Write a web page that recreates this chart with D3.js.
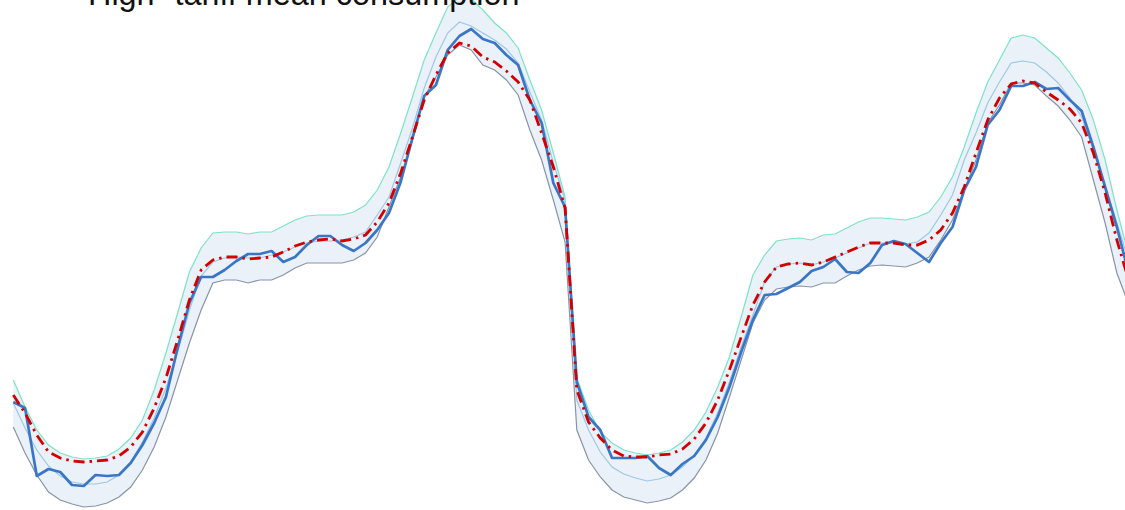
<!DOCTYPE html>
<html>
<head>
<meta charset="utf-8">
<script src="https://cdn.jsdelivr.net/npm/d3@7"></script>
<style>
  body { margin: 0; background: #fff; }
  svg { display: block; }
</style>
</head>
<body>
<div id="chart"></div>
<script>
// half-hour slots over two days
var slots = d3.range(96)

var upperBand = [1.20,0.93,0.70,0.55,0.47,0.43,0.41,0.42,0.44,0.51,0.62,0.80,1.10,1.47,1.87,2.28,2.52,2.67,2.68,2.68,2.66,2.68,2.68,2.74,
  2.80,2.84,2.85,2.85,2.85,2.88,2.95,3.10,3.33,3.67,4.03,4.40,4.67,4.93,5.03,5.01,4.90,4.77,4.67,4.52,4.20,3.90,3.47,3.03,
  1.22,0.90,0.68,0.57,0.50,0.47,0.45,0.47,0.50,0.58,0.70,0.88,1.13,1.43,1.83,2.25,2.45,2.59,2.61,2.62,2.60,2.65,2.66,2.72,
  2.78,2.82,2.82,2.81,2.80,2.83,2.88,3.03,3.23,3.53,3.87,4.18,4.40,4.62,4.65,4.62,4.52,4.42,4.27,4.10,3.80,3.40,2.90,2.45]

var lowerBand = [0.73,0.47,0.25,0.08,0.00,-0.04,-0.07,-0.06,-0.03,0.03,0.13,0.30,0.53,0.83,1.20,1.57,1.90,2.17,2.20,2.20,2.17,2.20,2.20,2.25,
  2.32,2.37,2.37,2.37,2.37,2.40,2.47,2.63,2.93,3.23,3.60,4.03,4.23,4.45,4.55,4.50,4.35,4.30,4.20,4.05,3.70,3.40,3.00,2.58,
  0.70,0.40,0.23,0.10,0.03,0.00,-0.03,-0.01,0.02,0.10,0.22,0.40,0.67,1.03,1.40,1.77,2.00,2.11,2.13,2.14,2.13,2.17,2.17,2.24,
  2.30,2.34,2.35,2.34,2.33,2.37,2.43,2.60,2.80,3.10,3.40,3.77,3.95,4.17,4.17,4.15,4.04,3.94,3.80,3.63,3.20,2.77,2.27,1.96]

var meanProfile = [0.97,0.72,0.50,0.34,0.24,0.18,0.16,0.16,0.18,0.25,0.38,0.58,0.82,1.12,1.48,1.90,2.24,2.38,2.42,2.43,2.42,2.42,2.45,2.48,
  2.53,2.57,2.59,2.59,2.60,2.63,2.68,2.85,3.03,3.37,3.72,4.12,4.43,4.67,4.78,4.74,4.67,4.60,4.51,4.37,4.08,3.80,3.37,3.00,
  1.00,0.70,0.48,0.33,0.26,0.22,0.19,0.21,0.25,0.33,0.45,0.62,0.87,1.18,1.53,1.85,2.18,2.33,2.36,2.37,2.35,2.38,2.42,2.47,
  2.52,2.57,2.57,2.57,2.56,2.58,2.67,2.85,3.05,3.40,3.67,3.97,4.18,4.37,4.39,4.37,4.28,4.17,4.02,3.83,3.50,3.13,2.77,2.40]

var forecast = [1.05,0.87,0.65,0.48,0.42,0.39,0.38,0.39,0.40,0.44,0.53,0.68,0.92,1.22,1.60,2.00,2.30,2.40,2.43,2.43,2.41,2.42,2.43,2.48,
  2.54,2.58,2.60,2.61,2.59,2.61,2.65,2.78,2.97,3.27,3.63,4.00,4.25,4.47,4.57,4.54,4.43,4.38,4.29,4.18,4.00,3.67,3.33,2.92,
  1.10,0.78,0.62,0.50,0.44,0.43,0.43,0.45,0.46,0.51,0.61,0.77,1.00,1.30,1.63,1.95,2.18,2.33,2.36,2.37,2.35,2.38,2.43,2.48,
  2.53,2.57,2.57,2.57,2.55,2.55,2.60,2.70,2.87,3.13,3.47,3.80,4.02,4.16,4.19,4.17,4.08,4.00,3.91,3.77,3.47,3.07,2.60,2.20]

var actual = [0.98,0.92,0.24,0.31,0.28,0.15,0.14,0.25,0.24,0.25,0.37,0.55,0.77,1.03,1.52,1.97,2.23,2.23,2.30,2.39,2.46,2.46,2.49,2.38,
  2.43,2.55,2.64,2.64,2.55,2.49,2.57,2.70,2.87,3.18,3.62,4.04,4.15,4.50,4.64,4.71,4.61,4.57,4.45,4.35,4.00,3.77,3.17,2.93,
  1.18,0.83,0.70,0.42,0.42,0.42,0.44,0.32,0.25,0.36,0.44,0.60,0.83,1.13,1.48,1.80,2.05,2.06,2.12,2.18,2.29,2.33,2.41,2.28,
  2.27,2.37,2.55,2.59,2.56,2.47,2.38,2.57,2.73,3.10,3.33,3.75,3.90,4.14,4.14,4.18,4.11,4.12,4.00,3.89,3.53,3.13,2.73,2.27]

var title = "High- tariff mean consumption"

var svgWidth = 1125
var svgHeight = 510

var svg = d3.select("#chart").append("svg")
    .attr("width", svgWidth)
    .attr("height", svgHeight)

var xScale = d3.scaleLinear().domain([0, 95]).range([13.3, 1128.6])
var yScale = d3.scaleLinear().domain([0, 5]).range([500, 0])

var band = d3.area()
    .x((d, i) => xScale(slots[i]))
    .y0((d, i) => yScale(lowerBand[i]))
    .y1((d, i) => yScale(upperBand[i]))

var line = function(values) {
    return d3.line()
        .x((d, i) => xScale(slots[i]))
        .y(d => yScale(d))(values)
}

svg.append("path")
    .attr("d", band(slots))
    .attr("fill", "#eaf1f8")

svg.append("path")
    .attr("d", line(upperBand))
    .attr("fill", "none")
    .attr("stroke", "#7ce3c6")
    .attr("stroke-width", 1.2)

svg.append("path")
    .attr("d", line(lowerBand))
    .attr("fill", "none")
    .attr("stroke", "#8894a6")
    .attr("stroke-width", 1.2)

svg.append("path")
    .attr("d", line(meanProfile))
    .attr("fill", "none")
    .attr("stroke", "#9cc8e8")
    .attr("stroke-width", 1.2)

svg.append("path")
    .attr("d", line(actual))
    .attr("fill", "none")
    .attr("stroke", "#3a76c6")
    .attr("stroke-width", 2.7)
    .attr("stroke-linejoin", "round")

svg.append("path")
    .attr("d", line(forecast))
    .attr("fill", "none")
    .attr("stroke", "#d40000")
    .attr("stroke-width", 2.8)
    .attr("stroke-dasharray", "11,5,2.5,5")

svg.append("text")
    .attr("x", 88)
    .attr("y", 5)
    .attr("font-family", "Liberation Sans, Arial, sans-serif")
    .attr("font-size", 32.4)
    .attr("fill", "#111")
    .text(title)
</script>
</body>
</html>
